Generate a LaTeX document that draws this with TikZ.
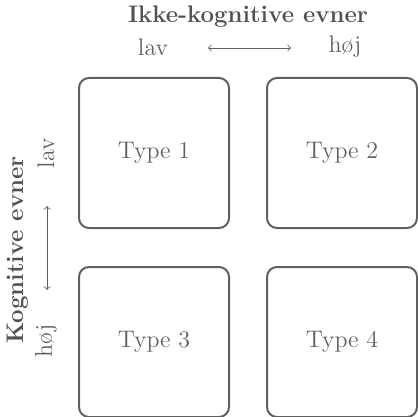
\documentclass[tikz,border=0pt]{standalone}
\usepackage{tikz}
\usetikzlibrary{positioning}
\definecolor{txtgray}{HTML}{606060}
\definecolor{linegray}{HTML}{606060}

\tikzset{
    typebox/.style={draw=linegray, line width=1pt, rounded corners=5pt, minimum size=75pt, text=txtgray, font=\large},
    axistitle/.style={text=txtgray!85!black, font=\large\bfseries},
    axislabel/.style={text=txtgray, font=\large},
}

\begin{document}
\begin{tikzpicture}[x=0.5pt, y=-0.5pt]
\useasboundingbox (0,0) rectangle (417,417);

\node[typebox] (T1) at (154,153) {Type 1};
\node[typebox] (T2) at (342,153) {Type 2};
\node[typebox] (T3) at (154,342) {Type 3};
\node[typebox] (T4) at (342,342) {Type 4};
%============
\node[axistitle] (IK) at (248,17) {Ikke-kognitive evner};
\node[axislabel] (IKlav) at (153,47) {lav};
\node[axislabel] (IKhoj) at (345,47) {høj};
\coordinate (IKa) at (208,48);
\coordinate (IKb) at (291,48);
%============
\node[axistitle, rotate=90] (K) at (18,250) {Kognitive evner};
\node[axislabel, rotate=90] (Klav) at (46,153) {lav};
\node[axislabel, rotate=90] (Khoj) at (46,341) {høj};
\coordinate (Ka) at (47,206);
\coordinate (Kb) at (47,290);
%==========

            \draw[<->, thin, >=to, draw=txtgray] (IKa) -- (IKb);
            \draw[<->, thin, >=to, draw=txtgray] (Ka) -- (Kb);

\end{tikzpicture}
\end{document}
